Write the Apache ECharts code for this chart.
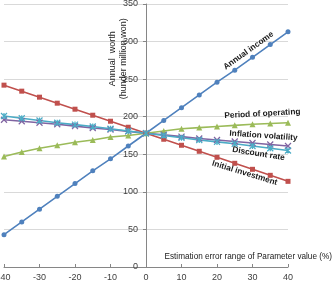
<!DOCTYPE html>
<html>
<head>
<meta charset="utf-8">
<script src="https://cdn.jsdelivr.net/npm/echarts@6/dist/echarts.min.js"></script>
<style>
  html, body { margin: 0; padding: 0; background: #fff; }
  #main { width: 334px; height: 290px; }
</style>
</head>
<body>
<div id="main"></div>
<script>
// error range of parameter value (%)
const errorRange = [-40, -35, -30, -25, -20, -15, -10, -5, 0, 5, 10, 15, 20, 25, 30, 35, 40];

// annual worth (hundred million won) per parameter
const annualIncome = [43, 60, 77, 94, 111, 128, 144, 161, 178, 195, 212, 229, 246, 262, 279, 296, 313];
const initialInvestment = [242, 234, 226, 218, 210, 202, 194, 186, 178, 170, 162, 154, 146, 138, 130, 122, 114];
const periodOfOperating = [147, 153, 158, 162, 166, 169, 173, 175, 178, 181, 184, 185.5, 187, 188.5, 190, 191, 192];
const inflationVolatility = [196, 194, 192, 190, 187.5, 185, 183, 180.5, 178, 176, 173.5, 171, 169, 167, 165, 163, 161];
const discountRate = [201, 198, 195, 192, 189.5, 187, 184, 181, 178, 175, 172, 169, 166.5, 164, 161, 158, 155];

const yTicks = [0, 50, 100, 150, 200, 250, 300, 350];

// in-chart labels: [text, x, y, rotation(deg)]
const lineLabels = [
  ['Annual income', 28.9, 288, 35.5],
  ['Period of operating', 32.8, 204, 3],
  ['Inflation volatility', 33.1, 174.7, -4],
  ['Discount rate', 31.7, 150.7, -9],
  ['Initial investment', 27.8, 125, -17]
];

const FONT = 'Liberation Sans';
const GRID_LEFT = 4;

function pairs(ys) {
  return errorRange.map((x, i) => [x, ys[i]]);
}

function lineSeries(name, ys, color, symbol, size, stroke) {
  return {
    name: name,
    type: 'line',
    data: pairs(ys),
    symbol: symbol,
    symbolSize: size,
    showAllSymbol: true,
    lineStyle: { color: color, width: 1.6 },
    itemStyle: stroke
      ? { color: 'rgba(0,0,0,0)', borderColor: color, borderWidth: 1.2 }
      : { color: color, borderWidth: 0 },
    z: 3
  };
}

const chart = echarts.init(document.getElementById('main'), null, { renderer: 'canvas' });

const option = {
  animation: false,
  grid: { left: GRID_LEFT, right: 46, top: 4, bottom: 23, containLabel: false, outerBoundsMode: 'none' },
  xAxis: {
    type: 'value',
    min: -40,
    max: 40,
    interval: 10,
    axisLine: { onZero: false, lineStyle: { color: '#868686', width: 1 } },
    axisTick: { inside: true, length: 3, lineStyle: { color: '#868686' } },
    axisLabel: { color: '#404040', fontSize: 9, fontFamily: FONT, margin: 6 },
    splitLine: { show: false }
  },
  yAxis: {
    type: 'value',
    min: 0,
    max: 350,
    interval: 50,
    position: 'left',
    axisLine: { show: true, onZero: false, lineStyle: { color: '#868686', width: 1 } },
    axisTick: { show: true, length: 3, lineStyle: { color: '#868686' } },
    axisLabel: {
      color: '#404040', fontSize: 9, fontFamily: FONT, margin: 8,
      formatter: v => (yTicks.includes(v) ? String(v) : '')
    },
    splitLine: { lineStyle: { color: '#d9d9d9', width: 1 } }
  },
  series: [
    lineSeries('Annual income', annualIncome, '#4f81bd', 'circle', 5, false),
    lineSeries('Initial investment', initialInvestment, '#c0504d', 'rect', 5, false),
    lineSeries('Period of operating', periodOfOperating, '#9bbb59', 'triangle', 6, false),
    lineSeries('Inflation volatility', inflationVolatility, '#8064a2', 'path://M0,0L10,10M10,0L0,10', 6, true),
    lineSeries('Discount rate', discountRate, '#4bacc6', 'path://M0,0L10,10M10,0L0,10M5,0L5,10', 6, true)
  ]
};

chart.setOption(option);

// move the y axis to x = 0 (the axis crosses at zero error)
const zeroX = chart.convertToPixel({ gridIndex: 0 }, [0, 0])[0];
chart.setOption({ yAxis: { offset: -(zeroX - GRID_LEFT) } });

// labels and axis titles placed through the chart's own coordinate conversion
const graphics = lineLabels.map(([text, x, y, rot]) => {
  const p = chart.convertToPixel({ gridIndex: 0 }, [x, y]);
  return {
    type: 'text',
    x: p[0], y: p[1],
    rotation: rot * Math.PI / 180,
    style: {
      text: text, fill: '#1a1a1a', font: 'bold 8.3px "' + FONT + '"',
      align: 'center', verticalAlign: 'middle'
    },
    z: 10
  };
});

const yName = chart.convertToPixel({ gridIndex: 0 }, [-8.0, 277]);
graphics.push({
  type: 'text',
  x: yName[0], y: yName[1],
  rotation: Math.PI / 2,
  style: {
    text: 'Annual  worth\n(hunder million won)', fill: '#1a1a1a',
    font: '9px "' + FONT + '"', align: 'center', verticalAlign: 'middle', lineHeight: 11
  },
  z: 10
});

const xName = chart.convertToPixel({ gridIndex: 0 }, [28.8, 13.5]);
graphics.push({
  type: 'text',
  x: xName[0], y: xName[1],
  style: {
    text: 'Estimation error range of Parameter value (%)', fill: '#1a1a1a',
    font: '8.2px "' + FONT + '"', align: 'center', verticalAlign: 'middle'
  },
  z: 10
});

chart.setOption({ graphic: graphics });
</script>
</body>
</html>
